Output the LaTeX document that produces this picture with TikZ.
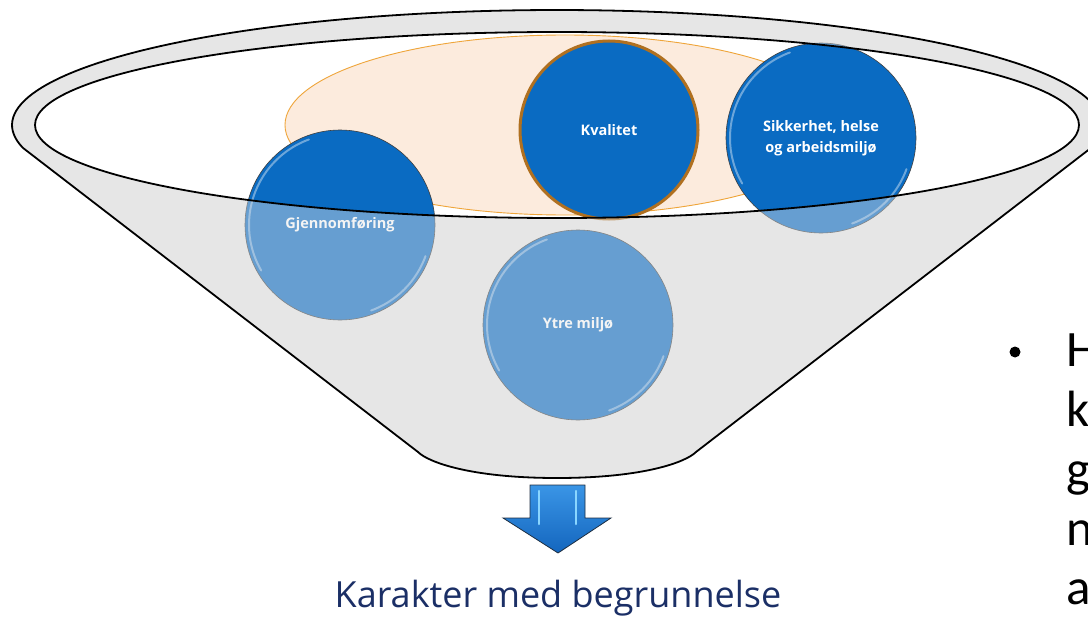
\documentclass[tikz,border=0pt]{standalone}
\usepackage{fontspec}
\setmainfont{Open Sans}
\newfontfamily\bulletfont{Carlito}
\usetikzlibrary{calc}
\definecolor{funnelgray}{HTML}{E6E6E6}
\definecolor{darkblue}{HTML}{0A6BC2}
\definecolor{peach}{HTML}{FCEBDD}
\definecolor{peachline}{HTML}{EFA53A}
\definecolor{kvalborder}{HTML}{B07020}
\definecolor{navy}{HTML}{1B2F66}
\definecolor{arrowtop}{HTML}{3A95E6}
\definecolor{arrowbot}{HTML}{1466BE}
\definecolor{arrowline}{HTML}{1E2E40}
\definecolor{strip}{HTML}{8AD6FF}
\tikzset{
  ball/.style={circle, fill=darkblue, draw=black!75, line width=0.6pt,
    minimum size=190pt, inner sep=0pt, text=white, align=center,
    font=\bfseries\fontsize{14.5}{21}\selectfont},
  hl/.style={white, opacity=0.4, line width=2pt, line cap=round},
  outline/.style={draw=black, line width=1.8pt},
}
\newcommand{\funnelpath}{
  plot[domain=168.5:371.5, samples=120] ({557+545*cos(\x)}, {125+115*sin(\x)})
  -- (696,452) .. controls (686,462) and (644,478) .. (557,478)
  .. controls (470,478) and (428,462) .. (418,452) -- cycle}
\begin{document}
\begin{tikzpicture}[x=1pt, y=-1pt]
\useasboundingbox (0,0) rectangle (1088,618);
\clip (0,0) rectangle (1088,618);
% funnel body
\fill[funnelgray] \funnelpath;
\fill[white] (557,125) ellipse [x radius=522pt, y radius=93pt];
% orange group ellipse
\draw[fill=peach, draw=peachline, line width=0.9pt] (565,125) ellipse [x radius=280pt, y radius=90pt];
% balls
\node[ball] (g) at (340,225) {Gjennomføring};
\node[ball] (y) at (578,325) {Ytre miljø};
\node[ball] (s) at (821,138) {Sikkerhet, helse\\og arbeidsmiljø};
\node[ball, draw=kvalborder, line width=3pt, minimum size=178pt] (k) at (609,130) {Kvalitet};
\foreach \n in {g,y,s}{
  \draw[hl] ([shift={(110:91pt)}]\n.center) arc[start angle=110, end angle=210, radius=91pt];
  \draw[hl] ([shift={(290:91pt)}]\n.center) arc[start angle=290, end angle=340, radius=91pt];
}
% front of funnel, semi-transparent
\fill[funnelgray, opacity=0.42, even odd rule] \funnelpath (557,125) ellipse [x radius=522pt, y radius=93pt];
% outlines
\draw[outline, line join=round] \funnelpath;
\draw[outline] (557,125) ellipse [x radius=522pt, y radius=93pt];
% arrow
\shade[top color=arrowtop, bottom color=arrowbot, draw=arrowline, line width=0.8pt, line join=miter]
  (530,485) -- (585,485) -- (585,518) -- (611,518) -- (558,553) -- (503,518) -- (530,518) -- cycle;
\draw[strip, line width=2.5pt, line cap=round] (539,491) -- (539,524);
\draw[strip, line width=2.5pt, line cap=round] (576,491) -- (576,524);
% result text
\node[anchor=base, text=navy, inner sep=0pt, font=\fontsize{36}{42}\selectfont] (res) at (558,607) {Karakter med begrunnelse};
% right bullet text
\fill[black] (1015,352) circle[radius=5.5pt];
\begin{scope}[every node/.style={anchor=base west, inner sep=0pt, font=\bulletfont\fontsize{51}{60}\selectfont}]
\node (t1) at (1066,366) {H};
\node (t2) at (1066,426) {k};
\node (t3) at (1066,486) {g};
\node (t4) at (1066,545) {n};
\node (t5) at (1066,604) {a};
\end{scope}
\end{tikzpicture}
\end{document}
